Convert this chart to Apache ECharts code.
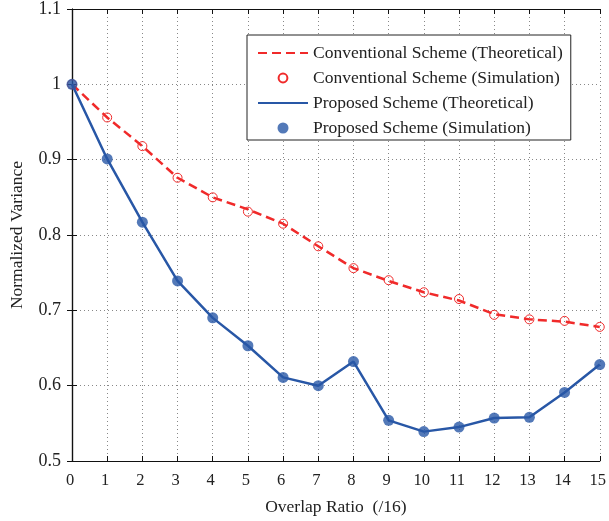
<!DOCTYPE html>
<html><head><meta charset="utf-8">
<script src="https://cdn.jsdelivr.net/npm/echarts@6/dist/echarts.min.js"></script>
<style>html,body{margin:0;padding:0;background:#fff}#c{width:609px;height:521px}</style>
</head><body><div id="c"></div>
<script>
const xValues = [0,1,2,3,4,5,6,7,8,9,10,11,12,13,14,15];
const convTheory = [1.0,0.956,0.918,0.876,0.850,0.834,0.815,0.785,0.756,0.739,0.724,0.713,0.695,0.688,0.685,0.678];
const convSim    = [1.0,0.956,0.918,0.876,0.850,0.831,0.815,0.785,0.756,0.740,0.724,0.715,0.694,0.688,0.686,0.678];
const propTheory = [1.0,0.901,0.817,0.739,0.690,0.653,0.611,0.600,0.632,0.554,0.539,0.545,0.557,0.558,0.591,0.628];
const propSim    = [1.0,0.901,0.817,0.739,0.690,0.653,0.611,0.600,0.632,0.554,0.539,0.545,0.557,0.558,0.591,0.628];
const names = ['Conventional Scheme (Theoretical)','Conventional Scheme (Simulation)','Proposed Scheme (Theoretical)','Proposed Scheme (Simulation)'];
const RED = '#f02a2a', BLUE = '#2857a6';
const font = 'Liberation Serif';
const pair = arr => xValues.map((x,i)=>[x,arr[i]]);

const chart = echarts.init(document.getElementById('c'), null, {renderer:'canvas'});
const gridLine = {show:true, lineStyle:{color:'#888', type:[1,3], width:1}};
chart.setOption({
  animation:false,
  backgroundColor:'#fff',
  grid:{left:70, right:3, top:8, bottom:57, containLabel:false},
  xAxis:[{
    type:'value', min:0, max:15, interval:1,
    name:'Overlap Ratio  (/16)', nameLocation:'middle', nameGap:37,
    nameTextStyle:{fontFamily:font, fontSize:17.5, color:'#222'},
    axisLine:{show:true, lineStyle:{color:'#111', width:1.2}},
    axisTick:{show:true, inside:true, length:5, lineStyle:{color:'#111'}},
    axisLabel:{fontFamily:font, fontSize:16.5, color:'#222', margin:11, padding:[0,4,0,0]},
    splitLine:gridLine
  },{
    type:'value', min:0, max:15, interval:1, position:'top',
    axisLine:{show:true, lineStyle:{color:'#111', width:1.2}},
    axisTick:{show:true, inside:true, length:5, lineStyle:{color:'#111'}},
    axisLabel:{show:false}, splitLine:{show:false}
  }],
  yAxis:[{
    type:'value', min:0.5, max:1.1, interval:0.1,
    name:'Normalized Variance', nameLocation:'middle', nameGap:46,
    nameTextStyle:{fontFamily:font, fontSize:17.5, color:'#222'},
    axisLine:{show:true, lineStyle:{color:'#111', width:1.2}},
    axisTick:{show:true, inside:true, length:5, lineStyle:{color:'#111'}},
    axisLabel:{fontFamily:font, fontSize:18, color:'#222', margin:11, padding:[6,0,0,0],
      formatter:v=>(Math.round(v*10)/10).toString()},
    splitLine:gridLine
  },{
    type:'value', min:0.5, max:1.1, interval:0.1, position:'right',
    axisLine:{show:true, lineStyle:{color:'#111', width:1.2}},
    axisTick:{show:true, inside:true, length:5, lineStyle:{color:'#111'}},
    axisLabel:{show:false}, splitLine:{show:false}
  }],
  legend:{
    orient:'vertical', left:247, top:35,
    backgroundColor:'#fff', borderColor:'#222', borderWidth:1,
    padding:[9,8,3,10], itemGap:7, itemWidth:50, itemHeight:11,
    textStyle:{fontFamily:font, fontSize:17.5, color:'#222', lineHeight:17.5},
    data:names
  },
  series:[
    {name:names[0], type:'line', data:pair(convTheory), symbol:'none',
     lineStyle:{color:RED, width:2.5, type:[9,5]}, itemStyle:{color:'rgba(0,0,0,0)'}, z:2},
    {name:names[1], type:'line', data:pair(convSim), symbol:'circle', symbolSize:9, showSymbol:true,
     lineStyle:{width:0, opacity:0}, itemStyle:{color:'rgba(0,0,0,0)', borderColor:RED, borderWidth:1}, z:3},
    {name:names[2], type:'line', data:pair(propTheory), symbol:'none',
     lineStyle:{color:BLUE, width:2.5}, itemStyle:{color:'rgba(0,0,0,0)'}, z:2},
    {name:names[3], type:'scatter', data:pair(propSim), symbol:'circle', symbolSize:11,
     itemStyle:{color:BLUE}, z:3}
  ]
});
</script></body></html>
